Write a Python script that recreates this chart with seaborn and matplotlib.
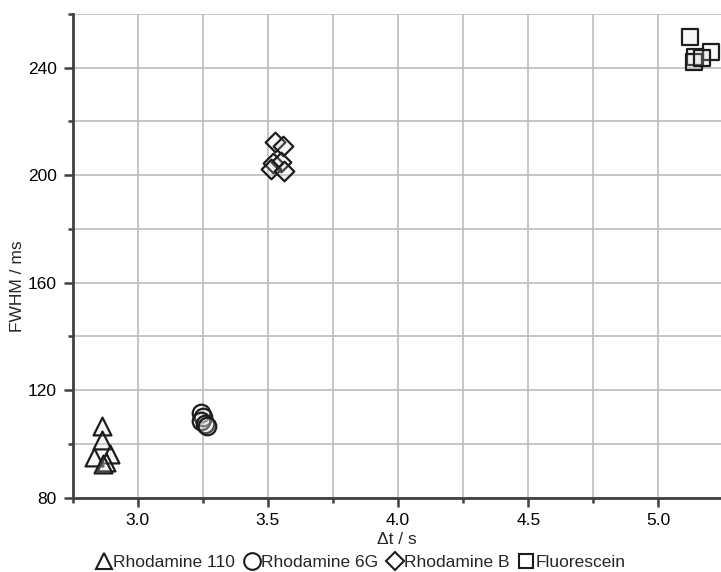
import matplotlib
matplotlib.use("Agg")
import matplotlib.pyplot as plt
from matplotlib.lines import Line2D
from matplotlib.ticker import MultipleLocator, FormatStrFormatter
import pandas as pd
import seaborn as sns

# Migration time (Δt) and peak width (FWHM) for each dye
dyes = ["Rhodamine 110", "Rhodamine 6G", "Rhodamine B", "Fluorescein"]

r110_dt = [2.863, 2.863, 2.834, 2.894, 2.879, 2.866]
r110_fwhm = [106.8, 101.4, 94.9, 96.2, 93.3, 92.5]

r6g_dt = [3.245, 3.250, 3.245, 3.258, 3.265]
r6g_fwhm = [111.5, 110.0, 108.5, 107.5, 106.8]

rb_dt = [3.529, 3.557, 3.518, 3.550, 3.512, 3.563]
rb_fwhm = [212.3, 210.7, 204.6, 204.8, 202.4, 201.5]

fl_dt = [5.121, 5.201, 5.141, 5.137, 5.168]
fl_fwhm = [251.3, 246.0, 244.1, 242.3, 243.8]

frames = []
for name, dt, fw in zip(dyes, [r110_dt, r6g_dt, rb_dt, fl_dt],
                        [r110_fwhm, r6g_fwhm, rb_fwhm, fl_fwhm]):
    frames.append(pd.DataFrame({"dye": name, "dt": dt, "fwhm": fw}))
df = pd.concat(frames, ignore_index=True)

marker_of = {"Rhodamine 110": "^", "Rhodamine 6G": "o",
             "Rhodamine B": "D", "Fluorescein": "s"}
size_of = {"Rhodamine 110": 165, "Rhodamine 6G": 160,
           "Rhodamine B": 100, "Fluorescein": 120}

EDGE = "#1c1c1c"
FILL = (0.86, 0.86, 0.86, 0.22)
AXIS = "#404040"
GRID = "#bcbcbc"
FS = 12.5

sns.set_theme(style="ticks")
plt.rcParams["font.family"] = ["Liberation Sans", "DejaVu Sans"]

W, H = 721, 572
fig = plt.figure(figsize=(W / 100, H / 100), dpi=100)
ax = fig.add_axes([72.5 / W, 74.5 / H, (W - 72.5) / W, (497.5 - 14) / H])

for dye in dyes:
    sub = df[df["dye"] == dye]
    sns.scatterplot(data=sub, x="dt", y="fwhm", marker=marker_of[dye],
                    s=size_of[dye], color=EDGE, ax=ax, legend=False, zorder=3)
    coll = ax.collections[-1]
    coll.set_facecolor(FILL)
    coll.set_edgecolor(EDGE)
    coll.set_linewidth(1.6)

ax.set_xlim(2.75, 5.24)
ax.set_ylim(80, 260)
ax.xaxis.set_major_locator(MultipleLocator(0.5))
ax.xaxis.set_minor_locator(MultipleLocator(0.25))
ax.yaxis.set_major_locator(MultipleLocator(40))
ax.yaxis.set_minor_locator(MultipleLocator(20))
ax.xaxis.set_major_formatter(FormatStrFormatter("%.1f"))

ax.grid(which="both", color=GRID, linewidth=1.2)
ax.set_axisbelow(True)

for side in ("top", "right"):
    ax.spines[side].set_visible(False)
for side in ("left", "bottom"):
    ax.spines[side].set_color(AXIS)
    ax.spines[side].set_linewidth(2)

ax.tick_params(which="major", direction="out", length=6.5, width=1.8,
               color=AXIS, labelsize=FS, labelcolor="black", pad=5)
ax.tick_params(which="minor", direction="out", length=3.5, width=1.8,
               color=AXIS)
ax.set_xlabel("")
ax.set_ylabel("")

fig.text(396.5 / W, 1 - 540 / H, "Δt / s", ha="center", va="center", fontsize=FS)
fig.text(18 / W, 0.5, "FWHM / ms", ha="center", va="center",
         rotation=90, fontsize=FS)

handles = [Line2D([], [], marker=marker_of[d], linestyle="none",
                  markerfacecolor="white", markeredgecolor=EDGE,
                  markeredgewidth=1.5,
                  markersize=(size_of[d] ** 0.5) * 0.95, label=d)
           for d in dyes]
fig.legend(handles=handles, loc="center", bbox_to_anchor=(0.5, 1 - 562 / H),
           ncol=4, frameon=False, fontsize=FS, handletextpad=0.05,
           columnspacing=0.45, handlelength=1.0, borderaxespad=0)

fig.savefig("out.png", dpi=100)
